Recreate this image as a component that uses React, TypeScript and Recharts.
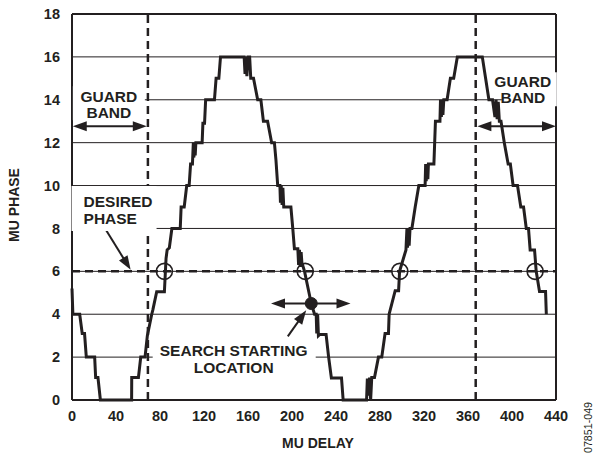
import React from 'react';
import { LineChart, Line, XAxis, YAxis, CartesianGrid, ReferenceLine, ReferenceDot } from 'recharts';

// MU delay (x) and MU phase (y) samples of the measured curve
const curveX = [
  0, 0.8, 7, 9.3, 11.4, 13, 20.6, 21.5, 23.6, 25.8, 54.2,
  54.3, 60.4, 62.5, 66.4, 68.5, 72.5, 73.5, 77, 84, 85.5, 86.5, 88.5, 90.8, 98.4, 99.2, 102, 104.3, 106.5, 107.8, 109.5,
  110.3, 110.8, 111.5, 112, 112.6, 118.3, 119, 120.5, 121.5, 129.5, 131, 133.5, 135,
  156.5, 157.3, 158, 159, 160, 161.5, 162.5, 165, 168.8, 171.7, 174, 177.8, 181.5, 184, 185.4, 187, 189, 189.5, 190.2, 191, 191.7, 192.5, 199,
  200.7, 202.2, 205.3, 206, 206.8, 207.6, 208.3, 209, 211.4, 217.5, 220.5, 222, 222.5, 223.3, 224, 225, 231, 233.3, 235.8, 245, 246.5,
  267.8, 268.5, 269.5, 270.5, 271.5, 272.5, 275, 278.6, 281.6, 284.6, 287.7, 288.3, 293.8, 296.9, 297.8, 303.6, 304.5, 305, 306, 306.5, 307.3, 309,
  312, 315.3, 321, 321.5, 322, 322.8, 323.5, 324, 329, 330.4, 334.5, 335, 335.8, 336.5, 337.2, 338, 341, 344, 347, 350.3,
  373, 376, 379, 382.3, 384.5, 385.5, 386.5, 387.5, 388.5, 390, 393, 396.5, 398.5, 401, 405, 408, 410.5, 413, 415, 416.5, 420.5, 422, 425, 430.5, 431.2,
];
const curveY = [
  5.2, 4.0, 4.0, 3.1, 3.1, 2.0, 2.0, 1.05, 1.05, 0, 0,
  1.05, 1.05, 2.0, 2.0, 3.0, 4.0, 4.2, 5.05, 5.05, 6.6, 7.0, 7.1, 8.0, 8.0, 9.0, 9.0, 10.0, 10.0, 11.0, 11.0,
  12.0, 11.3, 12.0, 11.4, 12.0, 12.0, 12.9, 12.9, 14.0, 14.0, 15.0, 15.0, 16.0,
  16.0, 15.2, 16.0, 15.1, 16.0, 16.0, 15.0, 15.0, 14.0, 14.0, 13.0, 13.0, 12.0, 12.0, 11.2, 10.0, 10.0, 9.2, 10.0, 9.1, 9.9, 9.0, 9.0,
  8.0, 7.05, 7.05, 6.3, 7.0, 6.2, 6.9, 6.4, 6.0, 4.5, 4.0, 4.0, 3.1, 4.0, 3.0, 3.05, 3.05, 2.0, 1.03, 1.03, 0,
  0, 1.0, 0.2, 1.05, 0, 1.05, 1.05, 2.0, 2.0, 3.1, 3.1, 4.0, 5.1, 5.1, 6.0, 7.0, 8.0, 7.1, 8.0, 7.2, 8.0, 8.0,
  9.0, 10.0, 10.0, 11.0, 10.2, 11.0, 10.3, 11.0, 11.0, 13.0, 13.0, 14.0, 13.2, 14.0, 13.3, 14.0, 14.0, 15.0, 15.0, 16.0,
  16.0, 15.0, 14.0, 14.0, 13.2, 14.0, 13.1, 13.9, 13.0, 13.0, 12.0, 11.0, 11.0, 10.0, 10.0, 9.0, 9.0, 8.0, 8.0, 7.0, 7.0, 6.0, 5.06, 5.06, 4.0,
];

const xTicks = [0, 40, 80, 120, 160, 200, 240, 280, 320, 360, 400, 440];
const yTicks = [0, 2, 4, 6, 8, 10, 12, 14, 16, 18];
const guardBandEdges = [69, 367];
const desiredPhase = 6;
const crossingX = [84, 212, 298, 421];
const searchStartX = 217.5;
const searchStartY = 4.5;

const data = curveX.map((x, i) => ({ x, y: curveY[i] }));

const INK = '#231f20';
const FONT = 'Arial, "Liberation Sans", Helvetica, sans-serif';

const arrowShape = (both: boolean) => (p: any) => {
  const { x1, y1, x2, y2 } = p;
  const dx = x2 - x1;
  const dy = y2 - y1;
  const len = Math.hypot(dx, dy) || 1;
  const ux = dx / len;
  const uy = dy / len;
  const L = 14;
  const W = 5;
  const head = (tx: number, ty: number, dirx: number, diry: number) => {
    const bx = tx - dirx * L;
    const by = ty - diry * L;
    return `${tx},${ty} ${bx - diry * W},${by + dirx * W} ${bx + diry * W},${by - dirx * W}`;
  };
  const sx = both ? x1 + ux * (L - 2) : x1;
  const sy = both ? y1 + uy * (L - 2) : y1;
  return (
    <g>
      <line x1={sx} y1={sy} x2={x2 - ux * (L - 2)} y2={y2 - uy * (L - 2)} stroke={INK} strokeWidth={2} />
      <polygon points={head(x2, y2, ux, uy)} fill={INK} />
      {both && <polygon points={head(x1, y1, -ux, -uy)} fill={INK} />}
    </g>
  );
};

type Note = {
  lines: string[];
  anchor: 'start' | 'middle';
  rect: [number, number, number, number];
  baselines: number[];
};

const noteShape = (n: Note) => (p: any) => {
  const { cx, cy } = p;
  return (
    <g>
      <rect x={cx + n.rect[0]} y={cy + n.rect[1]} width={n.rect[2]} height={n.rect[3]} fill="#fff" />
      {n.lines.map((t, i) => (
        <text
          key={i}
          x={cx}
          y={cy + n.baselines[i]}
          textAnchor={n.anchor}
          fontFamily={FONT}
          fontWeight="bold"
          fontSize={15.5}
          fill={INK}
        >
          {t}
        </text>
      ))}
    </g>
  );
};

const leftGuard: Note = { lines: ['GUARD', 'BAND'], anchor: 'middle', rect: [-36, -17, 72, 34], baselines: [-1.5, 14.5] };
const rightGuard: Note = { lines: ['GUARD', 'BAND'], anchor: 'middle', rect: [-21, -17, 55, 34], baselines: [-2.5, 14] };
const desired: Note = { lines: ['DESIRED', 'PHASE'], anchor: 'start', rect: [-12, -24, 85, 45], baselines: [-3.5, 13.5] };
const search: Note = { lines: ['SEARCH STARTING', 'LOCATION'], anchor: 'middle', rect: [-81, -16, 163, 33], baselines: [-3.5, 13] };

export default function App() {
  return (
    <div style={{ position: 'fixed', left: 0, top: 0, width: 595, height: 456, background: '#fff' }}>
      <LineChart
        width={595}
        height={456}
        data={data}
        margin={{ top: 14, right: 39, bottom: 0, left: 0 }}
      >
        <CartesianGrid horizontal vertical={false} stroke={INK} strokeWidth={1} strokeOpacity={1} />
        <XAxis
          dataKey="x"
          type="number"
          domain={[0, 440]}
          ticks={xTicks}
          interval={0}
          height={56}
          tickLine={false}
          tickMargin={5}
          axisLine={{ stroke: INK, strokeWidth: 2 }}
          tick={{ fill: INK, fontFamily: FONT, fontWeight: 'bold', fontSize: 14.5 }}
          label={{
            value: 'MU DELAY',
            position: 'bottom',
            offset: -18,
            dx: 4,
            style: { fill: INK, fontFamily: FONT, fontWeight: 'bold', fontSize: 14 },
          }}
        />
        <YAxis
          type="number"
          domain={[0, 18]}
          ticks={yTicks}
          interval={0}
          width={72}
          tickLine={false}
          tickMargin={6}
          axisLine={{ stroke: INK, strokeWidth: 2 }}
          tick={{ fill: INK, fontFamily: FONT, fontWeight: 'bold', fontSize: 14.5 }}
          label={{
            value: 'MU PHASE',
            angle: -90,
            position: 'insideLeft',
            offset: 14,
            dy: -2,
            style: { fill: INK, fontFamily: FONT, fontWeight: 'bold', fontSize: 14, textAnchor: 'middle' },
          }}
        />
        <ReferenceLine y={18} stroke={INK} strokeWidth={2} />
        <ReferenceLine x={440} stroke={INK} strokeWidth={2} />
        <Line
          type="linear"
          dataKey="y"
          stroke={INK}
          strokeWidth={3}
          dot={false}
          activeDot={false}
          isAnimationActive={false}
          strokeLinejoin="miter"
        />
        {guardBandEdges.map((gx) => (
          <ReferenceLine key={gx} x={gx} stroke={INK} strokeWidth={2.5} strokeDasharray="8 5" />
        ))}
        <ReferenceLine y={desiredPhase} stroke={INK} strokeWidth={2.5} strokeDasharray="8 5" />
        {crossingX.map((cx) => (
          <ReferenceDot key={cx} x={cx} y={desiredPhase} r={8} fill="none" stroke={INK} strokeWidth={1.6} />
        ))}
        <ReferenceDot x={33.5} y={13.84} r={0} shape={noteShape(leftGuard)} />
        <ReferenceDot x={409.8} y={14.49} r={0} shape={noteShape(rightGuard)} />
        <ReferenceDot x={10.5} y={8.86} r={0} shape={noteShape(desired)} />
        <ReferenceDot x={147} y={1.88} r={0} shape={noteShape(search)} />
        <ReferenceLine segment={[{ x: 0.7, y: 12.77 }, { x: 68, y: 12.77 }]} shape={arrowShape(true)} />
        <ReferenceLine segment={[{ x: 368.5, y: 12.77 }, { x: 440, y: 12.77 }]} shape={arrowShape(true)} />
        <ReferenceLine segment={[{ x: 29.8, y: 8.02 }, { x: 53.3, y: 6.07 }]} shape={arrowShape(false)} />
        <ReferenceLine segment={[{ x: 180.9, y: searchStartY }, { x: 253.2, y: searchStartY }]} shape={arrowShape(true)} />
        <ReferenceLine segment={[{ x: 196.2, y: 2.97 }, { x: 212.9, y: 4.18 }]} shape={arrowShape(false)} />
        <ReferenceDot x={searchStartX} y={searchStartY} r={6} fill={INK} stroke={INK} strokeWidth={1} />
      </LineChart>
      <svg width={595} height={456} style={{ position: 'absolute', left: 0, top: 0, pointerEvents: 'none' }}>
        <text
          x={592}
          y={427.5}
          transform="rotate(-90 592 427.5)"
          textAnchor="middle"
          fontFamily={FONT}
          fontSize={10.7}
          fill={INK}
        >
          07851-049
        </text>
      </svg>
    </div>
  );
}
